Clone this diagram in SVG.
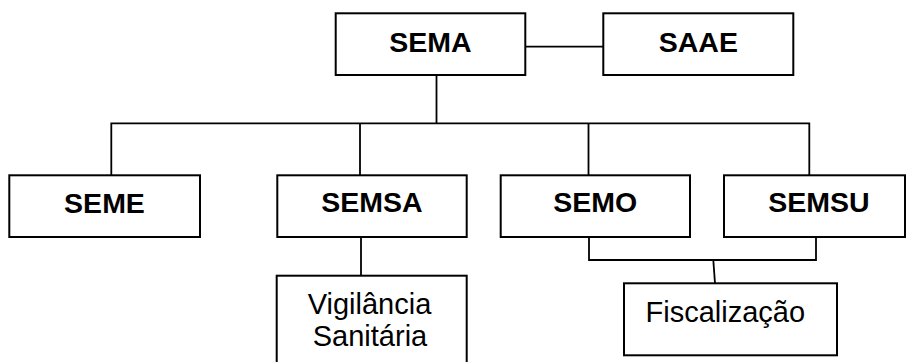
<svg xmlns="http://www.w3.org/2000/svg" width="906" height="362" viewBox="0 0 906 362">
  <style>
    .box { fill: #ffffff; stroke: #000000; stroke-width: 2; }
    .wire { fill: none; stroke: #000000; stroke-width: 1.8; }
    .lbl { font-family: "Liberation Sans", Arial, sans-serif; font-size: 28.5px; font-weight: bold; fill: #000000; text-anchor: middle; }
    .sub { font-family: "Liberation Sans", Arial, sans-serif; font-size: 29px; fill: #000000; }
  </style>
  <rect x="0" y="0" width="906" height="362" fill="#ffffff"/>

  <!-- connectors -->
  <g id="connectors">
    <path class="wire" d="M525.3 46.7 H603.3"/>
    <path class="wire" d="M436.5 75 V123.3"/>
    <path class="wire" d="M111.3 175.3 V123.3 H809.3 V175.3"/>
    <path class="wire" d="M360 123.3 V175.3"/>
    <path class="wire" d="M588.5 123.3 V175.3"/>
    <path class="wire" d="M361 237 V275.7"/>
    <path class="wire" d="M589 237 V260 H816 V237"/>
    <path class="wire" d="M713.3 260 L715 283.3"/>
  </g>

  <g id="sema">
    <rect class="box" x="335.7" y="13.3" width="189.6" height="61.7"/>
    <text class="lbl" x="430.5" y="52.3">SEMA</text>
  </g>
  <g id="saae">
    <rect class="box" x="603.3" y="13.3" width="190" height="61.7"/>
    <text class="lbl" x="698.3" y="51.8">SAAE</text>
  </g>
  <g id="seme">
    <rect class="box" x="9.3" y="175.3" width="190.7" height="61.7"/>
    <text class="lbl" x="104.5" y="212.5">SEME</text>
  </g>
  <g id="semsa">
    <rect class="box" x="277.3" y="175.3" width="189.4" height="61.7"/>
    <text class="lbl" x="372" y="212">SEMSA</text>
  </g>
  <g id="semo">
    <rect class="box" x="500.7" y="175.3" width="189.3" height="61.7"/>
    <text class="lbl" x="595.2" y="212">SEMO</text>
  </g>
  <g id="semsu">
    <rect class="box" x="724" y="175.3" width="181" height="61.7"/>
    <text class="lbl" x="819" y="212">SEMSU</text>
  </g>
  <g id="vigilancia">
    <rect class="box" x="276.7" y="275.7" width="190" height="100"/>
    <text class="sub" x="369.5" y="314.3" text-anchor="middle">Vigilância</text>
    <text class="sub" x="370" y="346" text-anchor="middle">Sanitária</text>
  </g>
  <g id="fiscalizacao">
    <rect class="box" x="624" y="283.3" width="213" height="72"/>
    <text class="sub" x="645.5" y="321.7">Fiscalização</text>
  </g>
</svg>
